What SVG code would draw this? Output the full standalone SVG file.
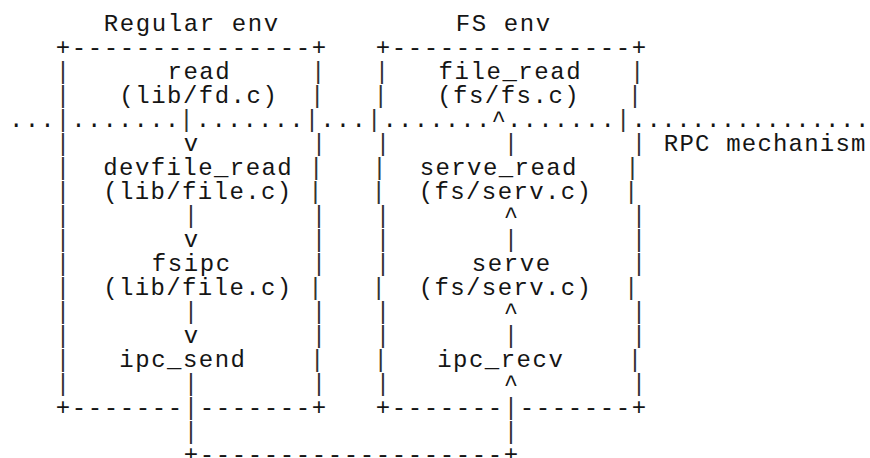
<svg xmlns="http://www.w3.org/2000/svg" width="870" height="458" viewBox="0 0 870 458">
  <style>
    text { font-family: "Liberation Mono", "Courier New", monospace; font-size: 24px; fill: #151515; white-space: pre; }
    .bar { fill: #333; }
    .p160 { letter-spacing: 1.6px; }
    .p159 { letter-spacing: 1.55px; }
    .p158 { letter-spacing: 1.49px; }
    .p156 { letter-spacing: 1.16px; }
    .p157 { letter-spacing: 1.42px; }
    .p155 { letter-spacing: 1.38px; }
    .lbl { letter-spacing: 1.2px; }
    .tail { letter-spacing: 0.49px; }
  </style>
  <rect width="870" height="458" fill="#fff"/>

  <!-- Regular env box -->
  <g id="regular-env">
    <text class="p160" x="103.8" y="31">Regular env</text>
    <text class="p160" x="55.8" y="55">+---------------+</text>
    <text class="bar"><tspan x="55.8" y="79">|</tspan><tspan x="55.8" y="103">|</tspan><tspan x="55.8" y="127">|</tspan><tspan x="55.8" y="151">|</tspan><tspan x="55.8" y="175">|</tspan><tspan x="55.8" y="199">|</tspan><tspan x="55.8" y="223">|</tspan><tspan x="55.8" y="247">|</tspan><tspan x="55.8" y="271">|</tspan><tspan x="55.8" y="295">|</tspan><tspan x="55.8" y="319">|</tspan><tspan x="55.8" y="343">|</tspan><tspan x="55.8" y="367">|</tspan><tspan x="55.8" y="391">|</tspan></text>
    <text class="bar"><tspan x="311.0" y="79">|</tspan><tspan x="310.04" y="103">|</tspan><tspan x="304.76" y="127">|</tspan><tspan x="311.8" y="151">|</tspan><tspan x="308.92" y="175">|</tspan><tspan x="308.28" y="199">|</tspan><tspan x="311.8" y="223">|</tspan><tspan x="311.8" y="247">|</tspan><tspan x="311.8" y="271">|</tspan><tspan x="308.28" y="295">|</tspan><tspan x="311.8" y="319">|</tspan><tspan x="311.8" y="343">|</tspan><tspan x="310.04" y="367">|</tspan><tspan x="311.8" y="391">|</tspan></text>
    <text class="p160" x="55.8" y="415">+-------</text>
    <text class="p160" x="199.8" y="415">-------+</text>
  </g>

  <!-- FS env box -->
  <g id="fs-env">
    <text class="p160" x="455.8" y="31">FS env</text>
    <text class="p160" x="375.8" y="55">+---------------+</text>
    <text class="bar"><tspan x="374.8" y="79">|</tspan><tspan x="373.6" y="103">|</tspan><tspan x="367.0" y="127">|</tspan><tspan x="375.8" y="151">|</tspan><tspan x="372.2" y="175">|</tspan><tspan x="371.4" y="199">|</tspan><tspan x="375.8" y="223">|</tspan><tspan x="375.8" y="247">|</tspan><tspan x="375.8" y="271">|</tspan><tspan x="371.4" y="295">|</tspan><tspan x="375.8" y="319">|</tspan><tspan x="375.8" y="343">|</tspan><tspan x="373.6" y="367">|</tspan><tspan x="375.8" y="391">|</tspan></text>
    <text class="bar"><tspan x="630.0" y="79">|</tspan><tspan x="627.84" y="103">|</tspan><tspan x="615.96" y="127">|</tspan><tspan x="631.8" y="151">|</tspan><tspan x="625.32" y="175">|</tspan><tspan x="623.88" y="199">|</tspan><tspan x="631.8" y="223">|</tspan><tspan x="631.8" y="247">|</tspan><tspan x="631.8" y="271">|</tspan><tspan x="623.88" y="295">|</tspan><tspan x="631.8" y="319">|</tspan><tspan x="631.8" y="343">|</tspan><tspan x="627.84" y="367">|</tspan><tspan x="631.8" y="391">|</tspan></text>
    <text class="p160" x="375.8" y="415">+-------</text>
    <text class="p160" x="519.8" y="415">-------+</text>
  </g>

  <!-- calls on the client side -->
  <g id="read">
    <text class="p159" x="167.45" y="79">read</text>
    <text class="p158" x="119.36" y="103">(lib/fd.c)</text>
  </g>
  <g id="devfile-read">
    <text class="p157" x="103.26" y="175">devfile_read</text>
    <text class="p155" x="103.14" y="199">(lib/file.c)</text>
  </g>
  <g id="fsipc">
    <text class="p160" x="151.8" y="271">fsipc</text>
    <text class="p155" x="103.14" y="295">(lib/file.c)</text>
  </g>
  <g id="ipc-send">
    <text class="p158" x="119.36" y="367">ipc_send</text>
  </g>

  <!-- handlers on the file server side -->
  <g id="file-read">
    <text class="p159" x="438.6" y="79">file_read</text>
    <text class="p158" x="437.16" y="103">(fs/fs.c)</text>
  </g>
  <g id="serve-read">
    <text class="p157" x="419.66" y="175">serve_read</text>
    <text class="p155" x="418.74" y="199">(fs/serv.c)</text>
  </g>
  <g id="serve">
    <text class="p160" x="471.8" y="271">serve</text>
    <text class="p155" x="418.74" y="295">(fs/serv.c)</text>
  </g>
  <g id="ipc-recv">
    <text class="p158" x="437.16" y="367">ipc_recv</text>
  </g>

  <!-- RPC boundary: dotted line and its label -->
  <g id="rpc-mechanism">
    <text class="p156" x="9.12" y="127">...</text>
    <text class="p156" x="71.36" y="127">.......</text>
    <text class="p156" x="195.84" y="127">.......</text>
    <text class="p156" x="320.32" y="127">...</text>
    <text class="p156" x="382.56" y="127">.......</text>
    <text class="p156" x="507.04" y="127">.......</text>
    <text class="tail" x="631.52" y="127">................</text>
    <text class="lbl" x="663.8" y="151">RPC mechanism</text>
  </g>

  <!-- connectors -->
  <g id="connectors">
    <!-- client chain, downwards, then across to the server -->
    <text><tspan class="bar" x="179.3" y="127">|</tspan><tspan x="183.8" y="151">v</tspan><tspan class="bar" x="183.8" y="223">|</tspan><tspan x="183.8" y="247">v</tspan><tspan class="bar" x="183.8" y="319">|</tspan><tspan x="183.8" y="343">v</tspan><tspan class="bar" x="183.8" y="391">|</tspan><tspan class="bar" x="183.8" y="415">|</tspan><tspan class="bar" x="183.8" y="439">|</tspan></text>
    <text class="p160" x="183.8" y="462">+-------------------+</text>
    <!-- server chain, upwards -->
    <text><tspan class="bar" x="503.8" y="439">|</tspan><tspan class="bar" x="503.8" y="415">|</tspan><tspan x="503.8" y="391">^</tspan><tspan class="bar" x="503.8" y="343">|</tspan><tspan x="503.8" y="319">^</tspan><tspan class="bar" x="503.8" y="247">|</tspan><tspan x="503.8" y="223">^</tspan><tspan class="bar" x="503.8" y="151">|</tspan><tspan x="491.48" y="127">^</tspan></text>
  </g>
</svg>
